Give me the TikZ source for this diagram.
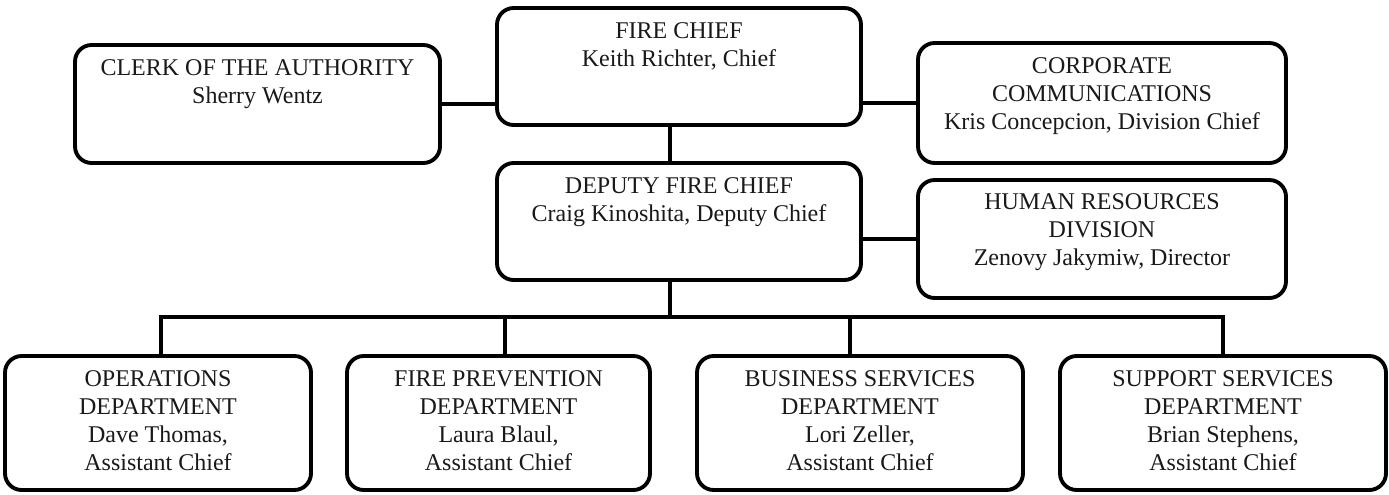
\documentclass[tikz,border=0pt]{standalone}
\usepackage{fontspec}
\setmainfont{Liberation Serif}
\usetikzlibrary{fit,calc}
\tikzset{
  orgbox/.style={draw=black, line width=2.9pt, rounded corners=12.5pt, inner sep=0pt},
  orgtxt/.style={anchor=north, align=center, inner sep=0pt, font=\fontsize{18}{21}\selectfont, text=black!90},
  link/.style={draw=black, line width=2.9pt}
}
\begin{document}
\begin{tikzpicture}[x=0.75pt, y=-0.75pt]
\useasboundingbox[fill=white] (0,0) rectangle (1389,494);
% top row
\node[orgbox, fit={(497,8) (861,125)}] (fc) {};
\node[orgtxt] (fct) at ([yshift=-12.5pt]fc.north) {FIRE CHIEF\\Keith Richter, Chief};
\node[orgbox, fit={(75,45) (440,163)}] (clerk) {};
\node[orgtxt] (clerkt) at ([yshift=-12.5pt]clerk.north) {CLERK OF THE AUTHORITY\\Sherry Wentz};
\node[orgbox, fit={(918,43) (1286,163)}] (corp) {};
\node[orgtxt] (corpt) at ([yshift=-12pt]corp.north) {CORPORATE\\COMMUNICATIONS\\Kris Concepcion, Division Chief};
% second row
\node[orgbox, fit={(497,163) (861,280)}] (dep) {};
\node[orgtxt] (dept) at ([yshift=-12.5pt]dep.north) {DEPUTY FIRE CHIEF\\Craig Kinoshita, Deputy Chief};
\node[orgbox, fit={(918,180) (1286,298)}] (hr) {};
\node[orgtxt] (hrt) at ([yshift=-11.5pt]hr.north) {HUMAN RESOURCES\\DIVISION\\Zenovy Jakymiw, Director};
% bottom row
\node[orgbox, fit={(5,356) (311,490)}] (ops) {};
\node[orgtxt] (opst) at ([yshift=-12pt]ops.north) {OPERATIONS\\DEPARTMENT\\Dave Thomas,\\Assistant Chief};
\node[orgbox, fit={(347,356) (650,490)}] (fp) {};
\node[orgtxt] (fpt) at ([yshift=-12pt]fp.north) {FIRE PREVENTION\\DEPARTMENT\\Laura Blaul,\\Assistant Chief};
\node[orgbox, fit={(697,356) (1023,490)}] (bs) {};
\node[orgtxt] (bst) at ([yshift=-12pt]bs.north) {BUSINESS SERVICES\\DEPARTMENT\\Lori Zeller,\\Assistant Chief};
\node[orgbox, fit={(1060,356) (1386,490)}] (ss) {};
\node[orgtxt] (sst) at ([yshift=-12pt]ss.north) {SUPPORT SERVICES\\DEPARTMENT\\Brian Stephens,\\Assistant Chief};
% connectors
\draw[link] (clerk.east) -- (clerk.east -| fc.west);
\draw[link] (corp.west) -- (corp.west -| fc.east);
\draw[link] (hr.west) -- (hr.west -| dep.east);
\coordinate (fcx) at ([xshift=-6.5pt]fc.south);
\draw[link] (fcx) -- (fcx |- dep.north);
\coordinate (bus) at (670,317);
\coordinate (depx) at ([xshift=-6.5pt]dep.south);
\draw[link] (depx) -- (depx |- bus);
\draw[link] ([xshift=2pt]ops.north) |- (ss.north |- bus) -- (ss.north);
\draw[link] ([xshift=4.9pt]fp.north) -- ([xshift=4.9pt]fp.north |- bus);
\draw[link] ([xshift=-7.5pt]bs.north) -- ([xshift=-7.5pt]bs.north |- bus);
\end{tikzpicture}
\end{document}
